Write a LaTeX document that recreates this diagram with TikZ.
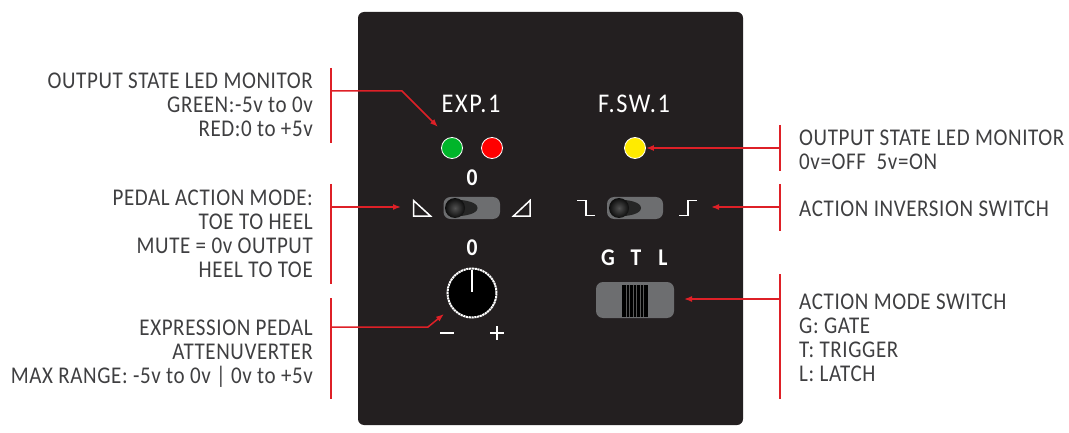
\documentclass[tikz,border=0pt]{standalone}
\usepackage{fontspec}
\setmainfont[LetterSpace=2.5,FakeStretch=0.875]{Carlito}
\newfontfamily\panelfont[LetterSpace=6,FakeStretch=0.9]{Carlito}
\usetikzlibrary{arrows.meta,calc}
\definecolor{panel}{HTML}{231F20}
\definecolor{redline}{HTML}{DE2027}
\definecolor{txt}{HTML}{3F3F41}
\definecolor{swgrey}{HTML}{6D6E70}
\definecolor{ledg}{HTML}{00B52A}
\definecolor{ledr}{HTML}{FF0000}
\definecolor{ledy}{HTML}{FFEB00}
\tikzset{
 x=1pt,y=-1pt,
 lbl/.style={inner sep=0pt,text=txt,font=\fontsize{24}{24}\selectfont},
 lbll/.style={lbl,align=right,anchor=east},
 lblr/.style={lbl,align=left,anchor=west},
 paneltxt/.style={inner sep=0pt,text=white,font=\panelfont\fontsize{27}{27}\selectfont},
 panelbold/.style={inner sep=0pt,text=white,font=\panelfont\bfseries\fontsize{24}{24}\selectfont},
 bar/.style={draw=redline,line width=1.5pt},
 lead/.style={draw=redline,line width=1.5pt,-{Latex[length=8pt,width=6pt]}},
 led/.style={circle,draw=white,line width=0.8pt,minimum size=21pt,inner sep=0pt},
 sym/.style={draw=white,line width=1.5pt},
 swbody/.style={fill=swgrey,rounded corners=7pt},
}
\begin{document}
\begin{tikzpicture}
\useasboundingbox (0,0) rectangle (1069,433);
\fill[panel,rounded corners=6pt] (358,12) rectangle (743,425);
% LEDs
\node[led,fill=ledg] (green) at (452,148) {};
\node[led,fill=ledr] (red) at (492,148) {};
\node[led,fill=ledy] (yellow) at (635,148) {};
% panel text
\node[paneltxt] (exp) at (471,104) {EXP.1};
\node[paneltxt] (fsw) at (634,104) {F.SW.1};
\node[panelbold] (z1) at (472,178) {0};
\node[panelbold] (z2) at (472,248) {0};
\node[panelbold] (g) at (608,258) {G};
\node[panelbold] (t) at (636,258) {T};
\node[panelbold] (l) at (663,258) {L};
% toggle 1
\fill[swbody] (443.5,197) rectangle (500,219);
\fill[black!85] (455,199.5) .. controls (465,200) and (477.5,202) .. (477.5,208) .. controls (477.5,214) and (465,216) .. (455,216.5) -- cycle;
\shade[inner color=black!68,outer color=black!95] (455,208) circle (10);
% toggle 2
\fill[swbody] (607,197) rectangle (663,219);
\fill[black!85] (619,199.5) .. controls (629,200) and (641,202) .. (641,208) .. controls (641,214) and (629,216) .. (619,216.5) -- cycle;
\shade[inner color=black!68,outer color=black!95] (619,208) circle (10);
% symbols
\draw[sym] (413.5,200.5) -- (413.5,216) -- (430.5,216) -- cycle;
\draw[sym] (513.5,216) -- (530,216) -- (530,200.5) -- cycle;
\draw[sym] (577,200.5) -- (586,200.5) -- (586,215.5) -- (595,215.5);
\draw[sym] (679,215.5) -- (688,215.5) -- (688,200.5) -- (697,200.5);
% slider
\fill[swbody] (596,282) rectangle (674,318);
\fill[black] (622,285) rectangle (648,317);
\foreach \x in {626,629.5,633,636.5,640,643.5}
  \draw[black!65,line width=0.5pt] (\x,285) -- (\x,317);
% knob
\node[circle,fill=black,draw=white,line width=2pt,dash pattern=on 2.2pt off 0.6pt,minimum size=49pt,inner sep=0pt] (knob) at (472,293) {};
\draw[white,line width=2.4pt] (472,270) -- (472,292);
\draw[white,line width=2pt] (440,333) -- (454,333);
\draw[white,line width=2pt] (490,333) -- (504,333) (497,326) -- (497,340);
% labels
\node[lbll] (a) at (313,105) {OUTPUT STATE LED MONITOR\\GREEN:-5v to 0v\\RED:0 to +5v};
\node[lbll] (b) at (313,234) {PEDAL ACTION MODE:\\TOE TO HEEL\\MUTE = 0v OUTPUT\\HEEL TO TOE};
\node[lbll] (c) at (313,354) {EXPRESSION PEDAL\\ATTENUVERTER\\MAX RANGE: -5v to 0v | 0v to +5v};
\node[lblr] (d) at (799,150) {OUTPUT STATE LED MONITOR\\0v=OFF\ \ 5v=ON};
\node[lblr] (e) at (799,209) {ACTION INVERSION SWITCH};
\node[lblr] (f) at (799,338) {ACTION MODE SWITCH\\G: GATE\\T: TRIGGER\\L: LATCH};
% bars
\draw[bar] (331,68) -- (331,143);
\draw[bar] (331,184) -- (331,284);
\draw[bar] (331,298) -- (331,399);
\draw[bar] (780,125) -- (780,171);
\draw[bar] (780,184) -- (780,231);
\draw[bar] (780,274) -- (780,399);
% leaders
\coordinate (ba) at (331,91); \coordinate (ta) at (438,127);
\coordinate (bb) at (331,207); \coordinate (tb) at (401,207);
\coordinate (bc) at (331,327); \coordinate (tc) at (444,314);
\coordinate (bd) at (780,148); \coordinate (be) at (780,207); \coordinate (bf) at (780,299);
\coordinate (te) at (711,207); \coordinate (tf) at (684,299);
\draw[lead] (ba) -- (402,91) -- (ta);
\draw[lead] (bb) -- (tb);
\draw[lead] (bc) -- (428,327) -- (tc);
\draw[lead] (bd) -- (yellow);
\draw[lead] (be) -- (te);
\draw[lead] (bf) -- (tf);
\end{tikzpicture}
\end{document}
